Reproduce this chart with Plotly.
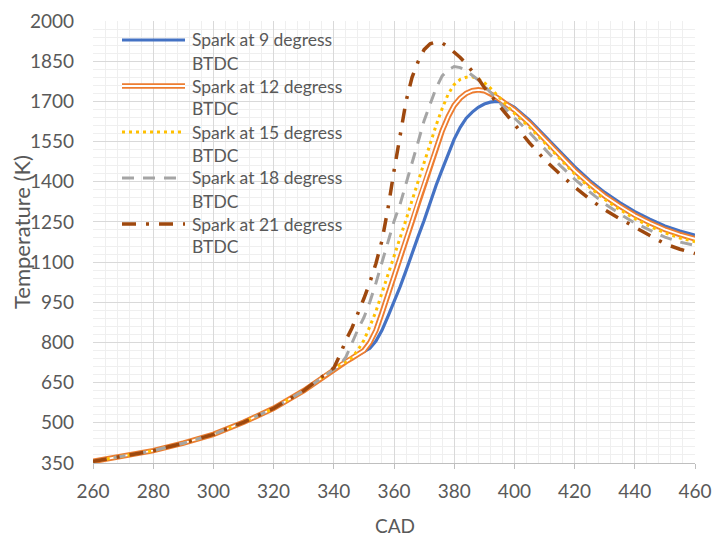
import plotly.graph_objects as go

# Crank angle (degrees) and in-cylinder temperature (K) for each spark timing
cad = [260, 270, 280, 290, 300, 310, 320, 330,
       340, 342, 344, 346, 348, 350, 352, 354, 356, 358, 360,
       362, 364, 366, 368, 370, 372, 374, 376, 378, 380,
       382, 384, 386, 388, 390, 392, 394, 396, 398, 400,
       405, 410, 415, 420, 425, 430, 435, 440, 445, 450, 455, 460]

compression = [356, 376, 396, 424, 457, 502, 554, 620]

spark_9 = compression + [
    700, 715, 728, 741, 754, 766, 778, 805, 845, 897, 951,
    1007, 1068, 1135, 1195, 1255, 1322, 1387, 1445, 1503, 1559,
    1603, 1637, 1660, 1678, 1690, 1697, 1700, 1698, 1690, 1678,
    1630, 1573, 1512, 1456, 1405, 1360, 1322, 1288, 1260, 1235, 1216, 1201]

spark_12 = compression + [
    700, 715, 728, 741, 754, 770, 800, 845, 910, 978, 1045,
    1110, 1182, 1253, 1325, 1393, 1456, 1527, 1590, 1643, 1685,
    1712, 1730, 1740, 1743, 1740, 1730, 1716, 1700, 1684, 1668,
    1618, 1560, 1498, 1442, 1392, 1347, 1309, 1275, 1247, 1222, 1203, 1187]

spark_15 = compression + [
    700, 715, 728, 743, 772, 808, 860, 916, 985, 1052, 1117,
    1188, 1258, 1330, 1402, 1470, 1540, 1611, 1673, 1727, 1763,
    1782, 1790, 1792, 1784, 1770, 1750, 1728, 1703, 1678, 1655,
    1604, 1546, 1484, 1429, 1379, 1334, 1296, 1262, 1234, 1209, 1190, 1176]

spark_18 = compression + [
    700, 715, 745, 800, 848, 893, 952, 1022, 1098, 1178, 1252,
    1315, 1390, 1468, 1548, 1628, 1692, 1750, 1795, 1818, 1830,
    1826, 1814, 1798, 1780, 1758, 1735, 1710, 1684, 1660, 1638,
    1584, 1525, 1463, 1410, 1362, 1318, 1280, 1246, 1218, 1193, 1175, 1162]

spark_21 = compression + [
    705, 752, 808, 853, 905, 964, 1025, 1095, 1180, 1300, 1440,
    1575, 1700, 1790, 1848, 1893, 1915, 1922, 1918, 1903, 1885,
    1864, 1840, 1813, 1785, 1752, 1725, 1700, 1673, 1645, 1615,
    1545, 1483, 1430, 1380, 1335, 1295, 1262, 1230, 1200, 1168, 1148, 1132]

names = ["Spark at 9 degress", "Spark at 12 degress", "Spark at 15 degress",
         "Spark at 18 degress", "Spark at 21 degress"]
legend_second_line = "BTDC"

x_ticks = list(range(260, 461, 20))
y_ticks = list(range(350, 2001, 150))

x_title = "CAD"
y_title = "Temperature (K)"

BLUE = "#4472C4"
ORANGE = "#ED7D31"
YELLOW = "#FFC000"
GREY = "#A5A5A5"
BROWN = "#9E480E"
TEXT = "#595959"
FONT = "Lato"

W, H = 712, 537
L, R, T, B = 93, 17, 21, 74
PW, PH = W - L - R, H - T - B


def px_x(px):
    return (px - L) / PW


def px_y(py):
    return (H - B - py) / PH


fig = go.Figure()

fig.add_trace(go.Scatter(x=cad, y=spark_9, mode="lines", name=names[0],
                         line=dict(color=BLUE, width=3.2)))
# compound (double) orange line: wide orange stroke with a thin white core
fig.add_trace(go.Scatter(x=cad, y=spark_12, mode="lines", name=names[1],
                         line=dict(color=ORANGE, width=5.5)))
fig.add_trace(go.Scatter(x=cad, y=spark_12, mode="lines", name=names[1],
                         line=dict(color="white", width=1.8)))
fig.add_trace(go.Scatter(x=cad, y=spark_15, mode="lines", name=names[2],
                         line=dict(color=YELLOW, width=3, dash="3px,4px")))
fig.add_trace(go.Scatter(x=cad, y=spark_18, mode="lines", name=names[3],
                         line=dict(color=GREY, width=3, dash="12px,9px")))
fig.add_trace(go.Scatter(x=cad, y=spark_21, mode="lines", name=names[4],
                         line=dict(color=BROWN, width=3.5, dash="14px,10px,3px,10px")))

# hand-built legend: line keys and two-line labels
key_styles = [
    [dict(color=BLUE, width=3.2)],
    [dict(color=ORANGE, width=5.5), dict(color="white", width=1.8)],
    [dict(color=YELLOW, width=3, dash="3px,4px")],
    [dict(color=GREY, width=3, dash="12px,9px")],
    [dict(color=BROWN, width=3.5, dash="14px,10px,3px,10px")],
]
shapes = []
annotations = []
for i, name in enumerate(names):
    row = 40 + 46 * i
    for style in key_styles[i]:
        shapes.append(dict(type="line", xref="paper", yref="paper",
                           x0=px_x(122), x1=px_x(185), y0=px_y(row), y1=px_y(row),
                           line=style))
    annotations.append(dict(xref="paper", yref="paper", x=px_x(190), y=px_y(row),
                            xanchor="left", yanchor="middle", showarrow=False,
                            text=name, font=dict(family=FONT, size=17.5, color=TEXT)))
    annotations.append(dict(xref="paper", yref="paper", x=px_x(190), y=px_y(row + 23),
                            xanchor="left", yanchor="middle", showarrow=False,
                            text=legend_second_line,
                            font=dict(family=FONT, size=17.5, color=TEXT)))

# axis titles
annotations.append(dict(xref="paper", yref="paper", x=px_x(395), y=px_y(525),
                        xanchor="center", yanchor="middle", showarrow=False,
                        text=x_title, font=dict(family=FONT, size=19, color=TEXT)))
annotations.append(dict(xref="paper", yref="paper", x=px_x(21), y=px_y(232),
                        xanchor="center", yanchor="middle", showarrow=False,
                        textangle=-90,
                        text=y_title, font=dict(family=FONT, size=22, color=TEXT)))

fig.update_layout(
    width=W, height=H,
    margin=dict(l=L, r=R, t=T, b=B, autoexpand=False),
    paper_bgcolor="white", plot_bgcolor="white",
    showlegend=False,
    font=dict(family=FONT, color=TEXT, size=19),
    shapes=shapes,
    annotations=annotations,
)

fig.update_xaxes(
    range=[260, 460], tickvals=x_ticks, ticktext=[str(v) for v in x_ticks],
    showgrid=True, gridcolor="#D9D9D9", gridwidth=1,
    minor=dict(dtick=4, tick0=260, showgrid=True, gridcolor="#EFEFEF", gridwidth=1),
    showline=True, linecolor="#BFBFBF", linewidth=1,
    ticks="outside", ticklen=5, tickcolor="#BFBFBF",
    ticklabelstandoff=6,
    tickfont=dict(family=FONT, size=19, color=TEXT),
    zeroline=False, automargin=False,
)
fig.update_yaxes(
    range=[350, 2000], tickvals=y_ticks, ticktext=[str(v) for v in y_ticks],
    showgrid=True, gridcolor="#D9D9D9", gridwidth=1,
    minor=dict(dtick=30, tick0=350, showgrid=True, gridcolor="#EFEFEF", gridwidth=1),
    showline=False, ticks="",
    ticklabelstandoff=18,
    tickfont=dict(family=FONT, size=19, color=TEXT),
    zeroline=False, automargin=False,
)

fig.write_html("out.html")
